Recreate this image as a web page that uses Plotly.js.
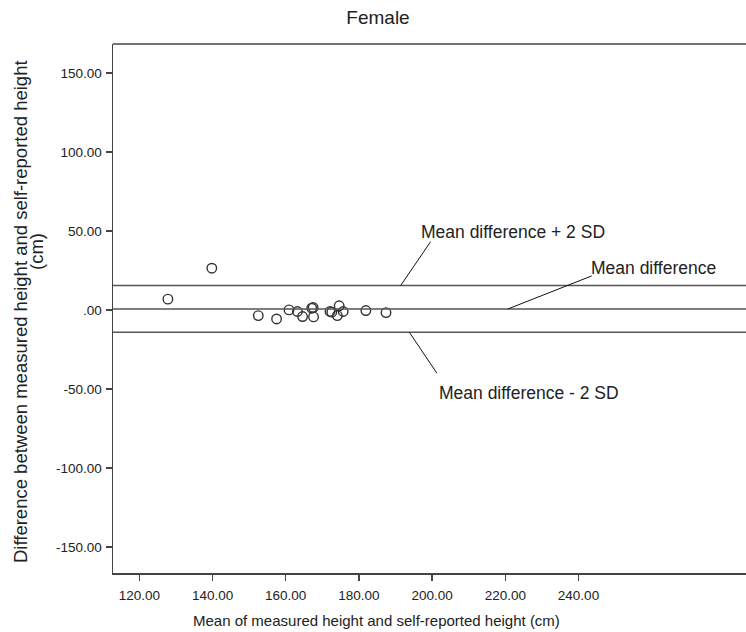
<!DOCTYPE html>
<html><head><meta charset="utf-8">
<script src="https://cdn.plot.ly/plotly-3.0.1.min.js"></script>
<style>html,body{margin:0;padding:0;background:#fff;overflow:hidden;width:746px;height:632px}#chart{width:760px;height:632px}</style>
</head><body><div id="chart"></div>
<script>
// Data (Bland-Altman plot, Female)
const meanHeight = [127.8, 139.8, 152.5, 157.5, 160.9, 163.2, 164.6, 167.1, 167.5, 167.6, 172.1, 172.6, 174.1, 174.6, 175.7, 181.9, 187.4];
const heightDiff = [6.9, 26.5, -3.5, -5.6, 0.1, -0.9, -4.1, 1.2, 1.6, -4.3, -0.9, -1.3, -3.5, 2.7, -0.9, -0.3, -1.6];
const refLineNames = ["Mean difference + 2 SD", "Mean difference", "Mean difference - 2 SD"];
const refLineValues = [15.5, 0.7, -14.1];
const xTickVals = [120, 140, 160, 180, 200, 220, 240];
const xTickLabels = ["120.00", "140.00", "160.00", "180.00", "200.00", "220.00", "240.00"];
const yTickVals = [-150, -100, -50, 0, 50, 100, 150];
const yTickLabels = ["-150.00", "-100.00", "-50.00", ".00", "50.00", "100.00", "150.00"];
const chartTitle = "Female";
const xTitle = "Mean of measured height and self-reported height (cm)";
const yTitleLines = ["Difference between measured height and self-reported height", "(cm)"];

const FONT = "Liberation Sans, Arial, sans-serif";
const INK = "#222";

// leader line geometry (layout)
const leaders = [
  {x0: 191.4, x1: 199.6, y1: 43.3, tx: 222.1, ty: 49.7},
  {x0: 220.7, x1: 243.6, y1: 21.6, tx: 260.5, ty: 26.5},
  {x0: 193.8, x1: 201.3, y1: -39.9, tx: 226.5, ty: -52.6}
];

const W = 760, H = 632, ML = 113, MR = 0, MT = 44, MB = 59;
const PW = W - ML - MR, PH = H - MT - MB;
const px2paperX = p => (p - ML) / PW;
const px2paperY = p => (H - MB - p) / PH;

const shapes = [];
const annotations = [];
refLineValues.forEach((v, i) => {
  shapes.push({type: "line", xref: "paper", yref: "y", x0: 0, x1: 1, y0: v, y1: v,
    line: {color: "#555", width: 1.5}});
  const L = leaders[i];
  shapes.push({type: "line", xref: "x", yref: "y", x0: L.x0, y0: v, x1: L.x1, y1: L.y1,
    line: {color: "#111", width: 1}});
  annotations.push({xref: "x", yref: "y", x: L.tx, y: L.ty, text: refLineNames[i], showarrow: false,
    xanchor: "center", yanchor: "middle", font: {family: FONT, size: 17.5, color: INK}});
});
// top frame line
shapes.push({type: "line", xref: "paper", yref: "paper", x0: 0, x1: 1, y0: 1, y1: 1,
  line: {color: "#444", width: 1.5}});

// y axis title as two rotated lines
annotations.push({xref: "paper", yref: "paper", x: px2paperX(20), y: px2paperY(312), text: yTitleLines[0], showarrow: false,
  textangle: -90, xanchor: "center", yanchor: "middle", font: {family: FONT, size: 18.5, color: INK}});
annotations.push({xref: "paper", yref: "paper", x: px2paperX(36), y: px2paperY(252), text: yTitleLines[1], showarrow: false,
  textangle: -90, xanchor: "center", yanchor: "middle", font: {family: FONT, size: 18.5, color: INK}});
// x axis title
annotations.push({xref: "paper", yref: "paper", x: px2paperX(376), y: px2paperY(620), text: xTitle, showarrow: false,
  xanchor: "center", yanchor: "middle", font: {family: FONT, size: 15, color: INK}});

const trace = {
  x: meanHeight, y: heightDiff, type: "scatter", mode: "markers",
  marker: {symbol: "circle-open", size: 9.5, color: "#333", line: {width: 1.4, color: "#333"}},
  hoverinfo: "x+y", cliponaxis: false
};

const layout = {
  width: W, height: H,
  margin: {l: ML, r: MR, t: MT, b: MB},
  paper_bgcolor: "#fff", plot_bgcolor: "#fff",
  font: {family: FONT, color: INK},
  showlegend: false,
  title: {text: chartTitle, xref: "container", yref: "container", x: 378 / W, y: 1 - 17 / H,
    xanchor: "center", yanchor: "middle", font: {family: FONT, size: 19, color: INK}},
  xaxis: {
    range: [112.8, 289.6], showgrid: false, zeroline: false,
    showline: true, linecolor: "#444", linewidth: 1.5,
    ticks: "outside", ticklen: 6, tickcolor: "#444", tickwidth: 1.5,
    tickmode: "array", tickvals: xTickVals, ticktext: xTickLabels,
    ticklabelstandoff: 3,
    tickfont: {family: FONT, size: 13.5, color: INK}
  },
  yaxis: {
    range: [-166.3, 168.3], showgrid: false, zeroline: false,
    showline: true, linecolor: "#444", linewidth: 1.5,
    ticks: "outside", ticklen: 6, tickcolor: "#444", tickwidth: 1.5,
    tickmode: "array", tickvals: yTickVals, ticktext: yTickLabels,
    ticklabelstandoff: 1,
    tickfont: {family: FONT, size: 13.5, color: INK}
  },
  shapes: shapes,
  annotations: annotations
};

Plotly.newPlot("chart", [trace], layout, {staticPlot: true, displayModeBar: false});
</script>
</body></html>
